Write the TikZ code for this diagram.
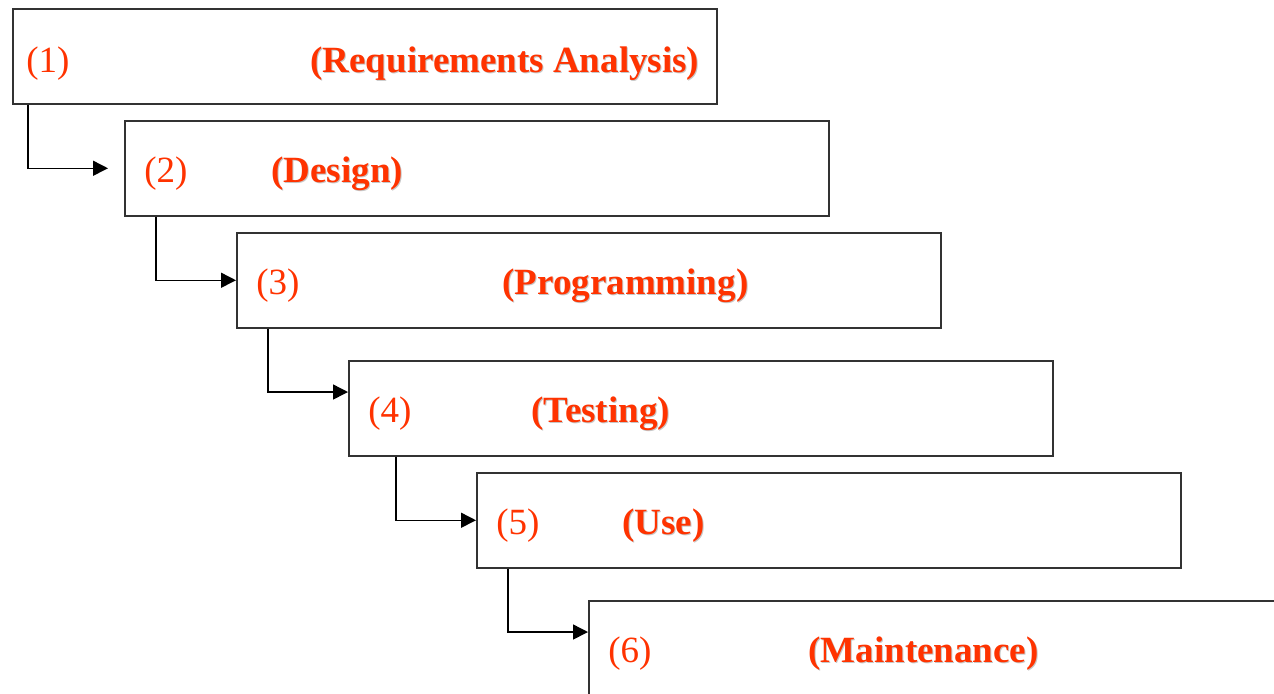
\documentclass[tikz,border=0pt]{standalone}
\usepackage{fontspec}
\setmainfont{Liberation Serif}
\usetikzlibrary{arrows.meta}

\definecolor{stagered}{RGB}{255,51,0}
\definecolor{boxline}{RGB}{50,50,50}

\tikzset{
  stage/.style={draw=boxline,line width=0.75pt,minimum width=352pt,minimum height=47.5pt,inner sep=0pt,anchor=north west},
  stagenum/.style={text=stagered,anchor=base west,inner sep=0pt,font=\fontsize{18.5}{22}\selectfont},
  stagetitle/.style={stagenum,font=\fontsize{18.5}{22}\selectfont\bfseries},
  titleshadow/.style={stagetitle,text=black!22},
  flow/.style={draw=black,line width=0.75pt,-{Triangle[length=7.5pt,width=7.5pt]}}
}

\begin{document}
\begin{tikzpicture}[x=0.5pt,y=-0.5pt]
  \useasboundingbox (0,0) rectangle (1274,693);

  % stages
  \node[stage] (s1) at (12,8) {};
  \node[stage] (s2) at (124,120) {};
  \node[stage] (s3) at (236,232) {};
  \node[stage] (s4) at (348,360) {};
  \node[stage] (s5) at (476,472) {};
  \node[stage] (s6) at (588,600) {};

  % labels
  \node[stagenum] (n1) at (26,72) {(1)};
  \node[titleshadow] (t1s) at (311,73) {(Requirements Analysis)};
  \node[stagetitle] (t1) at (310,72) {(Requirements Analysis)};

  \node[stagenum] (n2) at (144,182) {(2)};
  \node[titleshadow] (t2s) at (272,183) {(Design)};
  \node[stagetitle] (t2) at (271,182) {(Design)};

  \node[stagenum] (n3) at (256,294) {(3)};
  \node[titleshadow] (t3s) at (503,295) {(Programming)};
  \node[stagetitle] (t3) at (502,294) {(Programming)};

  \node[stagenum] (n4) at (368,422) {(4)};
  \node[titleshadow] (t4s) at (532,423) {(Testing)};
  \node[stagetitle] (t4) at (531,422) {(Testing)};

  \node[stagenum] (n5) at (496,534) {(5)};
  \node[titleshadow] (t5s) at (623,535) {(Use)};
  \node[stagetitle] (t5) at (622,534) {(Use)};

  \node[stagenum] (n6) at (608,662) {(6)};
  \node[titleshadow] (t6s) at (809,663) {(Maintenance)};
  \node[stagetitle] (t6) at (808,662) {(Maintenance)};

  % connectors
  \coordinate (e2) at ([xshift=-8pt]s2.west);
  \coordinate (e4) at ([yshift=-16pt]s4.north west);
  \coordinate (e6) at ([yshift=-16pt]s6.north west);
  \draw[flow] ([xshift=8pt]s1.south west) |- (e2);
  \draw[flow] ([xshift=16pt]s2.south west) |- (s3.west);
  \draw[flow] ([xshift=16pt]s3.south west) |- (e4);
  \draw[flow] ([xshift=24pt]s4.south west) |- (s5.west);
  \draw[flow] ([xshift=16pt]s5.south west) |- (e6);
\end{tikzpicture}
\end{document}
